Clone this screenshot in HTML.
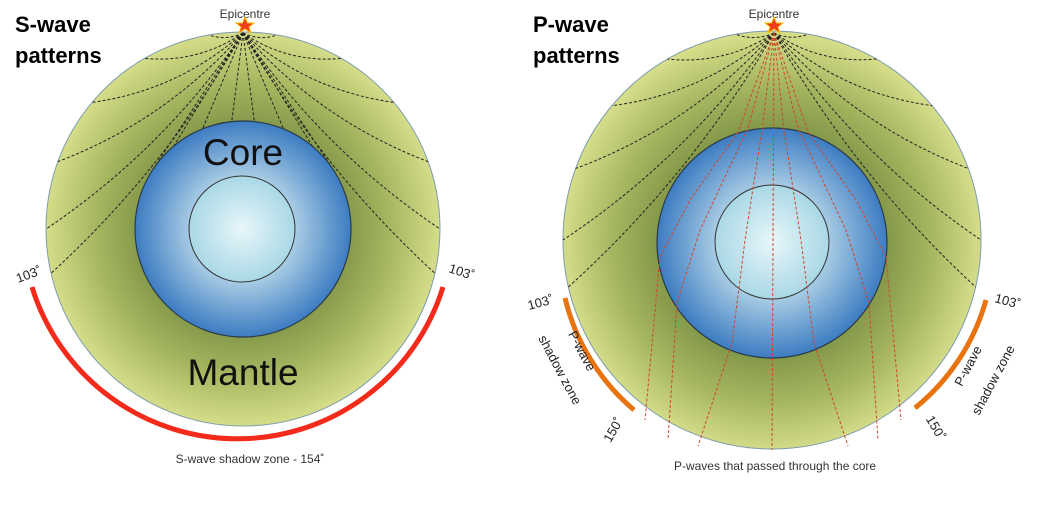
<!DOCTYPE html>
<html><head><meta charset="utf-8"><style>
html,body{margin:0;padding:0;background:#fff;}
svg{display:block;font-family:"Liberation Sans",sans-serif;}
</style></head><body>
<svg id="s" width="1050" height="505" viewBox="0 0 1050 505" xmlns="http://www.w3.org/2000/svg">
<defs>
<radialGradient id="mL" cx="243" cy="229" r="197" gradientUnits="userSpaceOnUse">
<stop offset="0.5" stop-color="#7f9446"/><stop offset="0.75" stop-color="#a7b761"/><stop offset="1" stop-color="#d5dd89"/></radialGradient>
<radialGradient id="mR" cx="772" cy="243" r="209" gradientUnits="userSpaceOnUse">
<stop offset="0.52" stop-color="#7f9446"/><stop offset="0.77" stop-color="#a7b761"/><stop offset="1" stop-color="#d5dd89"/></radialGradient>
<radialGradient id="core" cx="0.5" cy="0.5" r="0.5">
<stop offset="0.3" stop-color="#cfe9f0"/><stop offset="1" stop-color="#3d7cc2"/></radialGradient>
<radialGradient id="inner" cx="0.5" cy="0.5" r="0.5">
<stop offset="0" stop-color="#e8f6f9"/><stop offset="1" stop-color="#a9d8e6"/></radialGradient>
</defs>
<!-- Left -->
<circle cx="243" cy="229" r="197" fill="url(#mL)" stroke="#7e9bb0" stroke-width="1"/>
<g id="lrays" fill="none" stroke="#222" stroke-width="1" stroke-dasharray="3,2"></g>
<circle cx="243" cy="229" r="108" fill="url(#core)" stroke="#2a3a4a" stroke-width="1.2"/>
<circle cx="242" cy="229" r="53" fill="url(#inner)" stroke="#333" stroke-width="1"/>
<text x="243" y="165" font-size="37" text-anchor="middle" fill="#111">Core</text>
<text x="243" y="385" font-size="37" text-anchor="middle" fill="#111">Mantle</text>
<path d="M32,287 A215,215 0 0 0 443,287" fill="none" stroke="#f42a1a" stroke-width="5"/>
<text x="15" y="32" font-size="22" font-weight="bold">S-wave</text>
<text x="15" y="63" font-size="22" font-weight="bold">patterns</text>
<text x="245" y="18" font-size="12" text-anchor="middle" fill="#333">Epicentre</text>
<text x="250" y="463" font-size="12" text-anchor="middle" fill="#333">S-wave shadow zone - 154˚</text>
<text transform="translate(18,283) rotate(-20)" font-size="13" fill="#222">103˚</text>
<text transform="translate(448,272) rotate(18)" font-size="13" fill="#222">103˚</text>
<polygon points="245,17 247.5,23 254,23 249,27 251,33 245,29 239,33 241,27 236,23 242.5,23" fill="#f03a1a" stroke="#f5c400" stroke-width="1"/>
<!-- Right -->
<circle cx="772" cy="240" r="209" fill="url(#mR)" stroke="#7e9bb0" stroke-width="1"/>
<g id="rrays" fill="none" stroke="#222" stroke-width="1" stroke-dasharray="3,2"></g>
<circle cx="772" cy="243" r="115" fill="url(#core)" stroke="#2a3a4a" stroke-width="1.2"/>
<circle cx="772" cy="242" r="57" fill="url(#inner)" stroke="#333" stroke-width="1"/>
<g id="red" fill="none" stroke="#d0452a" stroke-width="1" stroke-dasharray="3,2"></g>
<path d="M565,298 A212,212 0 0 0 634,410" fill="none" stroke="#e8730f" stroke-width="5"/>
<path d="M986,300 A212,212 0 0 1 915,408" fill="none" stroke="#e8730f" stroke-width="5"/>
<text x="533" y="32" font-size="22" font-weight="bold">P-wave</text>
<text x="533" y="63" font-size="22" font-weight="bold">patterns</text>
<text x="774" y="18" font-size="12" text-anchor="middle" fill="#333">Epicentre</text>
<text x="775" y="470" font-size="12" text-anchor="middle" fill="#333">P-waves that passed through the core</text>
<text transform="translate(529,310) rotate(-15)" font-size="13" fill="#222">103˚</text>
<text transform="translate(578,353) rotate(62)" font-size="13" text-anchor="middle" fill="#222">P-wave</text>
<text transform="translate(556,372) rotate(62)" font-size="13" text-anchor="middle" fill="#222">shadow zone</text>
<text transform="translate(617,432) rotate(-60)" font-size="13" text-anchor="middle" fill="#222">150˚</text>
<text transform="translate(994,302) rotate(15)" font-size="13" fill="#222">103˚</text>
<text transform="translate(972,368) rotate(-62)" font-size="13" text-anchor="middle" fill="#222">P-wave</text>
<text transform="translate(997,382) rotate(-62)" font-size="13" text-anchor="middle" fill="#222">shadow zone</text>
<text transform="translate(932,430) rotate(60)" font-size="13" text-anchor="middle" fill="#222">150˚</text>
<polygon points="774,17 776.5,23 783,23 778,27 780,33 774,29 768,33 770,27 765,23 771.5,23" fill="#f03a1a" stroke="#f5c400" stroke-width="1"/>
</svg>
<script>
(function(){
var NS="http://www.w3.org/2000/svg";
function add(g,d){var p=document.createElementNS(NS,"path");p.setAttribute("d",d);document.getElementById(g).appendChild(p);}
function rays(g,ex,ey,cx,cy,r,ccx,ccy,cr){
  [10,30,50,70,90,103].forEach(function(a){[-1,1].forEach(function(s){
    var t=a*Math.PI/180,px=cx+s*r*Math.sin(t),py=cy-r*Math.cos(t);
    var mx=(ex+px)/2,my=(ey+py)/2,dx=px-ex,dy=py-ey,L=Math.hypot(dx,dy);
    var nx=-dy/L,ny=dx/L; if((cx-mx)*nx+(cy-my)*ny<0){nx=-nx;ny=-ny;}
    var k=0.22*L*(1-a/160);
    add(g,"M"+ex+","+ey+" Q"+(mx+nx*k)+","+(my+ny*k)+" "+px+","+py);
  });});
  if(ccx!==null){[6,22,40,58].forEach(function(a){[-1,1].forEach(function(s){
    var t=a*Math.PI/180,px=ccx+s*cr*Math.sin(t),py=ccy-cr*Math.cos(t);
    add(g,"M"+ex+","+ey+" L"+px+","+py);});});}
}
rays("lrays",243,33,243,229,197,243,229,108);
rays("rrays",774,33,772,240,209,null,0,0);
var c=772;
add("red","M774,33 L772,450");
[[[762,130],[745,240],[732,343],[698,446]],[[748,128],[700,230],[677,303],[668,440]],[[738,132],[690,200],[660,257],[645,420]]].forEach(function(r){
  [1,-1].forEach(function(s){
    var d="M774,33";
    r.forEach(function(p){d+=" L"+(s>0?p[0]:2*c-p[0]+2)+","+p[1];});
    add("red",d);
  });
});
})();
</script>
</body></html>
